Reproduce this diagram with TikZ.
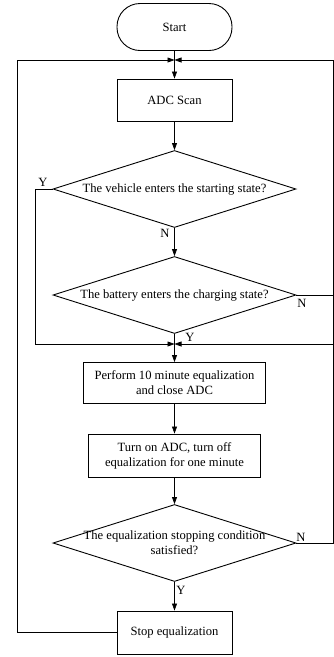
\documentclass[tikz,border=0pt]{standalone}
\usepackage{fontspec}
\setmainfont{Liberation Serif}
\usetikzlibrary{shapes.geometric}
\usetikzlibrary{arrows.meta}

\begin{document}
\begin{tikzpicture}[x=1pt,y=-1pt,
    font=\fontsize{12.6}{15}\selectfont,
    box/.style={draw,line width=0.9pt,inner sep=0pt,align=center},
    dec/.style={draw,diamond,line width=0.9pt,inner sep=0pt,aspect=3.14,
        minimum width=243pt,minimum height=77pt,align=center},
    arr/.style={line width=0.7pt,-{Triangle[length=7pt,width=5pt]}},
    lbl/.style={inner sep=0pt}
    ]
    \useasboundingbox (0,0) rectangle (334,657);
    \node[box,rounded corners=23pt,minimum width=115pt,minimum height=47pt] (start) at (174.5,27) {Start};
    \node[box,minimum width=115pt,minimum height=42pt] (scan) at (174.5,100) {ADC Scan};
    \node[dec] (vehicle) at (174.5,189) {The vehicle enters the starting state?};
    \node[dec] (battery) at (174.5,295) {The battery enters the charging state?};
    \node[box,minimum width=182pt,minimum height=41pt] (equal) at (174.5,383) {Perform 10 minute equalization\\and close ADC};
    \node[box,minimum width=172pt,minimum height=43pt] (turnon) at (174.5,455.5) {Turn on ADC, turn off\\equalization for one minute};
    \node[dec,inner sep=-10pt] (stopcond) at (174.5,543) {The equalization stopping condition\\satisfied?};
    \node[box,minimum width=115pt,minimum height=43pt] (stop) at (174.5,632.5) {Stop equalization};

    \coordinate (top) at (174.5,60);
    \coordinate (mid) at (174.5,344);

    \draw[arr] (start) -- (scan);
    \draw[arr] (scan) -- (vehicle);
    \draw[arr] (vehicle) -- (battery);
    \draw[arr] (battery) -- (equal);
    \draw[arr] (equal) -- (turnon);
    \draw[arr] (turnon) -- (stopcond);
    \draw[arr] (stopcond) -- (stop);
    % loops back
    \draw[arr] (vehicle.west) -- (35,189) |- (mid);
    \draw[arr] (battery.east) -- (333,295) |- (mid);
    \draw[arr] (stopcond.east) -- (333,543) |- (top);
    \draw[arr] (stop.west) -- (17,632.5) |- (top);

    \node[lbl] (yes1) at (43,182) {Y};
    \node[lbl] (no1) at (165,233) {N};
    \node[lbl] (no2) at (302,303) {N};
    \node[lbl] (yes2) at (190,337) {Y};
    \node[lbl] (no3) at (301,537) {N};
    \node[lbl] (yes3) at (181,590) {Y};
\end{tikzpicture}
\end{document}
